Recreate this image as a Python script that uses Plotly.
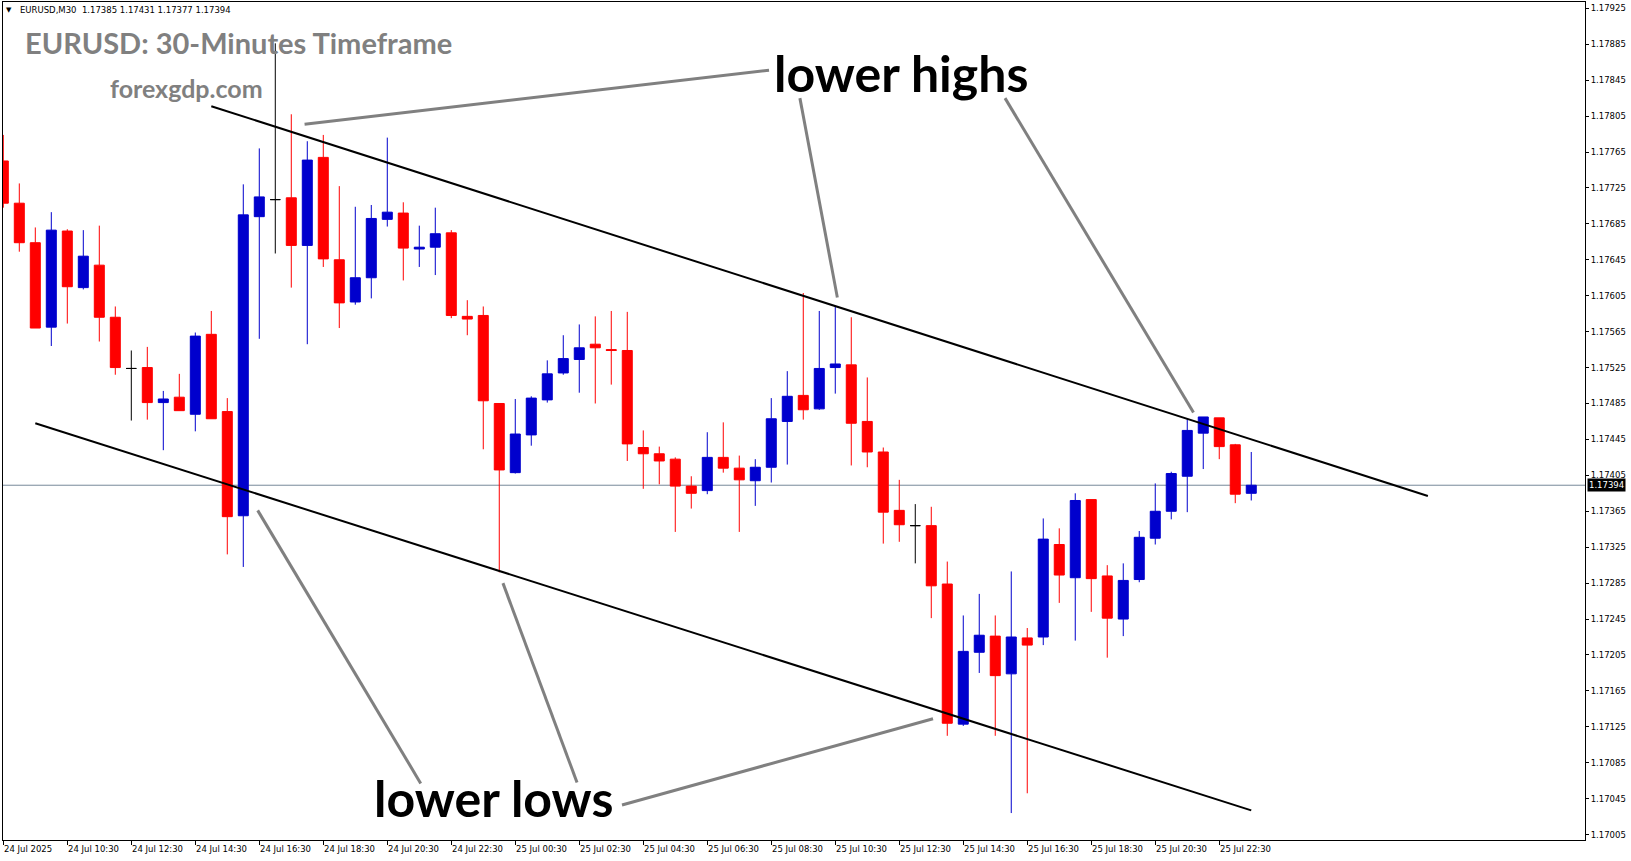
import plotly.graph_objects as go

# ---------------- data (EURUSD M30, 24 Jul 2025 08:30 -> 25 Jul 2025 23:30) ----------------
open_ = [1.17755, 1.17708, 1.17664, 1.17570, 1.17677, 1.17614, 1.17639, 1.17581, 1.17524, 1.17525,
         1.17486, 1.17492, 1.17473, 1.17562, 1.17476, 1.17360, 1.17693, 1.17712, 1.17714, 1.17661,
         1.17759, 1.17645, 1.17598, 1.17625, 1.17690, 1.17697, 1.17657, 1.17659, 1.17675, 1.17582,
         1.17583, 1.17485, 1.17408, 1.17450, 1.17489, 1.17519, 1.17534, 1.17551, 1.17545, 1.17544,
         1.17436, 1.17429, 1.17423, 1.17393, 1.17388, 1.17425, 1.17413, 1.17399, 1.17414, 1.17465,
         1.17494, 1.17479, 1.17525, 1.17528, 1.17465, 1.17431, 1.17366, 1.17349, 1.17349, 1.17284,
         1.17128, 1.17208, 1.17226, 1.17184, 1.17224, 1.17225, 1.17328, 1.17291, 1.17378, 1.17293,
         1.17245, 1.17289, 1.17335, 1.17365, 1.17404, 1.17452, 1.17469, 1.17439, 1.17385]
high = [1.17784, 1.17730, 1.17681, 1.17698, 1.17679, 1.17678, 1.17683, 1.17593, 1.17544, 1.17548,
        1.17499, 1.17518, 1.17564, 1.17588, 1.17491, 1.17729, 1.17769, 1.17886, 1.17807, 1.17777,
        1.17784, 1.17727, 1.17704, 1.17706, 1.17781, 1.17709, 1.17683, 1.17703, 1.17678, 1.17600,
        1.17593, 1.17485, 1.17490, 1.17493, 1.17533, 1.17561, 1.17573, 1.17582, 1.17588, 1.17587,
        1.17455, 1.17437, 1.17425, 1.17404, 1.17453, 1.17464, 1.17427, 1.17423, 1.17491, 1.17521,
        1.17608, 1.17588, 1.17593, 1.17581, 1.17514, 1.17436, 1.17400, 1.17373, 1.17370, 1.17309,
        1.17249, 1.17273, 1.17249, 1.17298, 1.17235, 1.17357, 1.17346, 1.17385, 1.17378, 1.17305,
        1.17307, 1.17343, 1.17396, 1.17409, 1.17468, 1.17470, 1.17469, 1.17440, 1.17431]
low = [1.17703, 1.17654, 1.17569, 1.17549, 1.17574, 1.17612, 1.17554, 1.17517, 1.17466, 1.17467,
       1.17433, 1.17477, 1.17454, 1.17468, 1.17317, 1.17303, 1.17557, 1.17652, 1.17614, 1.17551,
       1.17637, 1.17569, 1.17595, 1.17602, 1.17682, 1.17622, 1.17637, 1.17628, 1.17580, 1.17561,
       1.17434, 1.17297, 1.17407, 1.17438, 1.17486, 1.17517, 1.17497, 1.17485, 1.17506, 1.17421,
       1.17390, 1.17395, 1.17342, 1.17368, 1.17384, 1.17408, 1.17342, 1.17371, 1.17397, 1.17417,
       1.17467, 1.17478, 1.17496, 1.17416, 1.17414, 1.17329, 1.17331, 1.17307, 1.17246, 1.17115,
       1.17126, 1.17185, 1.17115, 1.17029, 1.17051, 1.17216, 1.17263, 1.17221, 1.17253, 1.17202,
       1.17226, 1.17286, 1.17328, 1.17356, 1.17364, 1.17412, 1.17423, 1.17374, 1.17377]
close = [1.17708, 1.17664, 1.17569, 1.17678, 1.17615, 1.17649, 1.17581, 1.17525, 1.17524, 1.17486,
         1.17490, 1.17477, 1.17560, 1.17468, 1.17359, 1.17695, 1.17715, 1.17712, 1.17661, 1.17756,
         1.17646, 1.17597, 1.17625, 1.17691, 1.17698, 1.17658, 1.17659, 1.17674, 1.17583, 1.17579,
         1.17488, 1.17411, 1.17451, 1.17491, 1.17518, 1.17535, 1.17547, 1.17547, 1.17544, 1.17440,
         1.17429, 1.17421, 1.17393, 1.17385, 1.17425, 1.17413, 1.17400, 1.17414, 1.17468, 1.17493,
         1.17478, 1.17524, 1.17529, 1.17463, 1.17431, 1.17364, 1.17350, 1.17349, 1.17282, 1.17129,
         1.17209, 1.17227, 1.17182, 1.17225, 1.17216, 1.17334, 1.17294, 1.17377, 1.17290, 1.17246,
         1.17288, 1.17336, 1.17365, 1.17407, 1.17455, 1.17470, 1.17437, 1.17384, 1.17394]

x_tick_bars = [0, 4, 8, 12, 16, 20, 24, 28, 32, 36, 40, 44, 48, 52, 56, 60, 64, 68, 72, 76]
x_tick_labels = ["24 Jul 2025", "24 Jul 10:30", "24 Jul 12:30", "24 Jul 14:30", "24 Jul 16:30",
                 "24 Jul 18:30", "24 Jul 20:30", "24 Jul 22:30", "25 Jul 00:30", "25 Jul 02:30",
                 "25 Jul 04:30", "25 Jul 06:30", "25 Jul 08:30", "25 Jul 10:30", "25 Jul 12:30",
                 "25 Jul 14:30", "25 Jul 16:30", "25 Jul 18:30", "25 Jul 20:30", "25 Jul 22:30"]
y_tick_values = [1.17005, 1.17045, 1.17085, 1.17125, 1.17165, 1.17205, 1.17245, 1.17285,
                 1.17325, 1.17365, 1.17405, 1.17445, 1.17485, 1.17525, 1.17565, 1.17605,
                 1.17645, 1.17685, 1.17725, 1.17765, 1.17805, 1.17845, 1.17885, 1.17925]
current_price = 1.17394

# channel trend lines (bar index, price)
upper_line_x = [13.0, 89.04]
upper_line_y = [1.17816, 1.17382]
lower_line_x = [2.0, 78.0]
lower_line_y = [1.17463, 1.17032]

# grey pointer lines: (x0, y0, x1, y1) in bar index / price
pointer_lines = [
    (18.83, 1.17796, 47.86, 1.17856),
    (49.79, 1.17825, 52.13, 1.17603),
    (62.61, 1.17825, 74.39, 1.17475),
    (15.90, 1.17366, 26.09, 1.17062),
    (31.23, 1.17285, 35.86, 1.17063),
    (38.67, 1.17038, 58.11, 1.17134),
]

# ---------------- figure ----------------
bars = list(range(len(open_)))
up = [i for i in bars if close[i] > open_[i]]
down = [i for i in bars if close[i] < open_[i]]
doji = [i for i in bars if close[i] == open_[i]]

BLUE = "#0000CD"
RED = "#FF0000"


def candle(idx, inc_color, dec_color, name):
    return go.Candlestick(
        x=idx,
        open=[open_[i] for i in idx], high=[high[i] for i in idx],
        low=[low[i] for i in idx], close=[close[i] for i in idx],
        increasing=dict(line=dict(color=inc_color, width=1), fillcolor=inc_color),
        decreasing=dict(line=dict(color=dec_color, width=1), fillcolor=dec_color),
        whiskerwidth=0, name=name, showlegend=False, hoverinfo="skip",
    )


fig = go.Figure()
fig.add_trace(candle(up, BLUE, BLUE, "up"))
fig.add_trace(candle(down, RED, RED, "down"))
fig.add_trace(candle(doji, "#000000", "#000000", "doji"))

shapes = [
    dict(type="line", xref="paper", yref="y", x0=0, x1=1, y0=current_price, y1=current_price,
         line=dict(color="#778899", width=1), layer="below"),
    dict(type="line", xref="x", yref="y", x0=upper_line_x[0], x1=upper_line_x[1],
         y0=upper_line_y[0], y1=upper_line_y[1], line=dict(color="#000000", width=2)),
    dict(type="line", xref="x", yref="y", x0=lower_line_x[0], x1=lower_line_x[1],
         y0=lower_line_y[0], y1=lower_line_y[1], line=dict(color="#000000", width=2)),
]
for (x0, y0, x1, y1) in pointer_lines:
    shapes.append(dict(type="line", xref="x", yref="y", x0=x0, y0=y0, x1=x1, y1=y1,
                       line=dict(color="#808080", width=3)))

AX_FONT = dict(family="DejaVu Sans", size=8.5, color="#000000")
annotations = []
# x-axis labels, left aligned at the tick like MetaTrader
for b, lab in zip(x_tick_bars, x_tick_labels):
    annotations.append(dict(x=b, y=-0.0107, xref="x", yref="paper", text=lab, showarrow=False,
                            xanchor="left", yanchor="middle", font=AX_FONT, xshift=-1))
# current price tag
annotations.append(dict(x=1, y=current_price, xref="paper", yref="y", text="1.17394",
                        showarrow=False, xanchor="left", yanchor="middle", xshift=2,
                        bgcolor="#000000", borderpad=1,
                        font=dict(family="DejaVu Sans", size=8.5, color="#FFFFFF")))
# header info
annotations.append(dict(x=0.375, y=1.17923, xref="x", yref="y", text="▼", showarrow=False,
                        xanchor="center", yanchor="middle",
                        font=dict(family="DejaVu Sans", size=7, color="#000000")))
annotations.append(dict(x=0.92, y=1.17923, xref="x", yref="y",
                        text="EURUSD,M30\u00a0\u00a01.17385 1.17431 1.17377 1.17394",
                        showarrow=False, xanchor="left", yanchor="middle", font=AX_FONT))
# titles
annotations.append(dict(x=1.22, y=1.17887, xref="x", yref="y",
                        text="<b>EURUSD: 30-Minutes Timeframe</b>", showarrow=False,
                        xanchor="left", yanchor="middle",
                        font=dict(family="Lato", size=29, color="#808080")))
annotations.append(dict(x=6.55, y=1.17836, xref="x", yref="y", text="<b>forexgdp.com</b>",
                        showarrow=False, xanchor="left", yanchor="middle",
                        font=dict(family="Lato", size=25, color="#808080")))
annotations.append(dict(x=48.03, y=1.17853, xref="x", yref="y", text="<b>lower highs</b>",
                        showarrow=False, xanchor="left", yanchor="middle",
                        font=dict(family="Lato", size=50, color="#000000")))
annotations.append(dict(x=23.07, y=1.17046, xref="x", yref="y", text="<b>lower lows</b>",
                        showarrow=False, xanchor="left", yanchor="middle",
                        font=dict(family="Lato", size=50, color="#000000")))

fig.update_layout(
    width=1631, height=861,
    margin=dict(l=3, r=46, t=2, b=21, pad=0),
    paper_bgcolor="#FFFFFF", plot_bgcolor="#FFFFFF",
    showlegend=False,
    boxgap=0.375, boxgroupgap=0,
    shapes=shapes, annotations=annotations,
    xaxis=dict(range=[-0.019, 98.86], showgrid=False, zeroline=False, showline=True, mirror=True,
               linecolor="#000000", linewidth=1, tickmode="array", tickvals=x_tick_bars,
               ticks="outside", ticklen=4, tickcolor="#000000", tickwidth=1,
               showticklabels=False, rangeslider=dict(visible=False), fixedrange=True),
    yaxis=dict(range=[1.16999, 1.17932], side="right", showgrid=False, zeroline=False,
               showline=True, mirror=True, linecolor="#000000", linewidth=1,
               tickmode="array", tickvals=y_tick_values,
               ticktext=[f"{v:.5f}" for v in y_tick_values],
               ticks="outside", ticklen=3, tickcolor="#000000", tickwidth=1,
               tickfont=AX_FONT, fixedrange=True),
)

fig.write_html(
    "out.html",
    config={"displayModeBar": False, "staticPlot": True},
    post_script="document.body.style.margin='0';document.body.style.overflow='hidden';",
)
